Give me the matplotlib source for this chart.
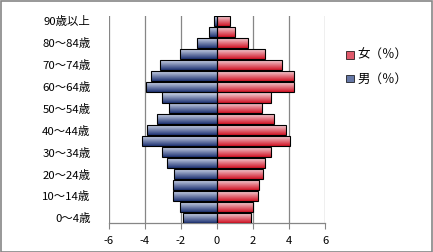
import numpy as np
import matplotlib
matplotlib.use("Agg")
import matplotlib.pyplot as plt
from matplotlib.patches import Rectangle, Patch
from matplotlib.colors import LinearSegmentedColormap

plt.rcParams['font.family'] = ['Noto Sans CJK JP', 'DejaVu Sans']

age_groups = ["0～4歳", "5～9歳", "10～14歳", "15～19歳", "20～24歳", "25～29歳",
              "30～34歳", "35～39歳", "40～44歳", "45～49歳", "50～54歳", "55～59歳",
              "60～64歳", "65～69歳", "70～74歳", "75～79歳", "80～84歳", "85～89歳",
              "90歳以上"]
female = [1.86, 2.0, 2.28, 2.33, 2.56, 2.69, 3.0, 4.06, 3.8, 3.17, 2.5, 2.97,
          4.28, 4.28, 3.58, 2.69, 1.72, 1.0, 0.74]
male = [1.89, 2.06, 2.44, 2.44, 2.4, 2.78, 3.06, 4.17, 3.89, 3.33, 2.67, 3.06,
        3.94, 3.67, 3.17, 2.06, 1.11, 0.44, 0.17]
x_ticks = [-6, -4, -2, 0, 2, 4, 6]
series_names = ["女（％）", "男（％）"]

W, H = 433, 252
fig = plt.figure(figsize=(W / 100, H / 100), dpi=100)
ax = fig.add_axes([108.5 / W, 1 - 223.3 / H, (325.3 - 108.5) / W, (223.3 - 15.5) / H])

y = np.arange(len(age_groups))
male_neg = [-v for v in male]

cm_m = LinearSegmentedColormap.from_list("m", [(0.12, 0.2, 0.45), (0.86, 0.89, 0.95)])
cm_f = LinearSegmentedColormap.from_list("f", [(0.82, 0.08, 0.15), (0.97, 0.88, 0.9)])
grad = np.linspace(0, 1, 64).reshape(-1, 1)

def draw(vals, cmap):
    bars = ax.barh(y, vals, height=0.92, color='none', edgecolor='black', linewidth=0.8, zorder=4)
    for b in bars:
        x0, y0, w, h = b.get_x(), b.get_y(), b.get_width(), b.get_height()
        im = ax.imshow(grad, cmap=cmap, aspect='auto', zorder=3, origin='upper',
                       extent=[min(x0, x0 + w), max(x0, x0 + w), y0 + h, y0])
        im.set_extent([min(x0, x0 + w), max(x0, x0 + w), y0 + h, y0])
        im.set_clip_path(b)
    return bars

draw(female, cm_f)
draw(male_neg, cm_m)

ax.set_xlim(-6, 6)
ax.set_ylim(-0.5, len(age_groups) - 0.5)
ax.set_xticks(x_ticks)
ax.set_xticklabels([str(t) for t in x_ticks], fontsize=8)
ax.set_yticks(y[::2])
ax.set_yticklabels(age_groups[::2], fontsize=8.2)
ax.tick_params(axis='y', length=0, pad=13)
ax.tick_params(axis='x', length=4, width=0.8, color='#868686', pad=5, direction='out')
ax.grid(axis='x', color='#868686', linewidth=0.9, zorder=0)
ax.set_axisbelow(True)
for s in ['top', 'right', 'left']:
    ax.spines[s].set_visible(False)
ax.spines['bottom'].set_color('#868686')
ax.spines['bottom'].set_linewidth(0.9)
ax.axvline(0, color='#868686', linewidth=0.9, zorder=1)

handles = [Patch(facecolor=(0.88, 0.35, 0.42), edgecolor='black', linewidth=0.5),
           Patch(facecolor=(0.4, 0.47, 0.65), edgecolor='black', linewidth=0.5)]
fig.legend(handles, series_names, loc='upper left', bbox_to_anchor=(340 / W, 1 - 43 / H),
           frameon=False, fontsize=9, handlelength=0.6, handleheight=0.6,
           handletextpad=0.3, labelspacing=0.85, borderpad=0)

fig.patches.append(Rectangle((0.5 / W, 0.5 / H), 1 - 1.5 / W, 1 - 1.5 / H,
                             transform=fig.transFigure, fill=False,
                             edgecolor='#868686', linewidth=1.2))
fig.savefig("out.png", dpi=100)
